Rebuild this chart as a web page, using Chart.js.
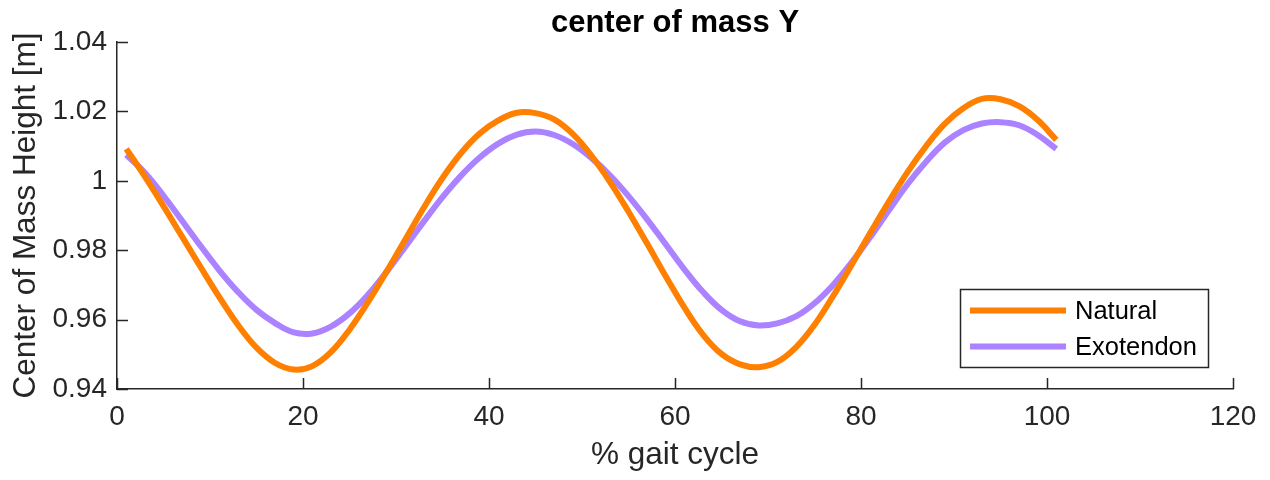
<!DOCTYPE html>
<html>
<head>
<meta charset="utf-8">
<script src="https://cdn.jsdelivr.net/npm/chart.js@4.4.1/dist/chart.umd.min.js"></script>
<style>
  html, body { margin: 0; padding: 0; background: #ffffff; }
  #wrap { width: 1270px; height: 480px; }
</style>
</head>
<body>
<div id="wrap"><canvas id="comChart" width="1270" height="480"></canvas></div>
<script>
const gaitPercent = [1, 3, 5, 7, 9, 11, 13, 15, 17, 19, 21, 23, 25, 27, 29, 31, 33, 35, 37, 39, 41, 43, 45, 47, 49,
    51, 53, 55, 57, 59, 61, 63, 65, 67, 69, 71, 73, 75, 77, 79, 81, 83, 85, 87, 89, 91, 93, 95, 97, 99, 101];

const naturalHeight = [1.0092, 1.0012, 0.9927, 0.9839, 0.9751, 0.9665, 0.9585, 0.9519, 0.9475, 0.9456,
    0.9466, 0.9506, 0.9571, 0.9651, 0.9739, 0.9831, 0.9923, 1.0008, 1.0080, 1.0136,
    1.0174, 1.0196, 1.0195, 1.0177, 1.0135, 1.0073, 0.9997, 0.9911, 0.9819, 0.9725,
    0.9635, 0.9557, 0.9501, 0.9471, 0.9463, 0.9478, 0.9520, 0.9585, 0.9668, 0.9758,
    0.9850, 0.9940, 1.0025, 1.0100, 1.0164, 1.0209, 1.0236, 1.0235, 1.0215, 1.0175, 1.0118];

const exotendonHeight = [1.0075, 1.0023, 0.9957, 0.9885, 0.9812, 0.9742, 0.9680, 0.9628, 0.9590, 0.9563,
    0.9560, 0.9580, 0.9618, 0.9672, 0.9738, 0.9810, 0.9883, 0.9953, 1.0015, 1.0067,
    1.0107, 1.0133, 1.0142, 1.0132, 1.0106, 1.0066, 1.0016, 0.9956, 0.9889, 0.9817,
    0.9745, 0.9680, 0.9628, 0.9595, 0.9583, 0.9589, 0.9609, 0.9647, 0.9700, 0.9765,
    0.9838, 0.9915, 0.9990, 1.0055, 1.0110, 1.0146, 1.0165, 1.0169, 1.0160, 1.0132, 1.0092];

const xTickValues = [0, 20, 40, 60, 80, 100, 120];
const yTickValues = [0.94, 0.96, 0.98, 1, 1.02, 1.04];

const FONT = "'Liberation Sans', Arial, Helvetica, sans-serif";
const AXIS_COLOR = "#262626";

function toPoints(ys) {
    return gaitPercent.map((x, i) => ({ x: x, y: ys[i] }));
}

// matlab style ticks pointing into the plot
const inwardTicks = {
    id: "inwardTicks",
    afterDatasetsDraw(chart) {
        const { ctx, chartArea, scales } = chart;
        const len = 11;
        ctx.save();
        ctx.strokeStyle = AXIS_COLOR;
        ctx.lineWidth = 1.5;
        ctx.beginPath();
        scales.x.ticks.forEach(t => {
            const px = Math.round(scales.x.getPixelForValue(t.value)) + 0.5;
            ctx.moveTo(px, chartArea.bottom);
            ctx.lineTo(px, chartArea.bottom - len);
        });
        scales.y.ticks.forEach(t => {
            const py = Math.round(scales.y.getPixelForValue(t.value)) + 0.5;
            ctx.moveTo(chartArea.left, py);
            ctx.lineTo(chartArea.left + len, py);
        });
        ctx.stroke();
        ctx.restore();
    }
};

// title centred over the axes, not the whole canvas
const axesTitle = {
    id: "axesTitle",
    afterDraw(chart) {
        const { ctx, chartArea } = chart;
        ctx.save();
        ctx.font = "bold 31px " + FONT;
        ctx.fillStyle = "#000000";
        ctx.textAlign = "center";
        ctx.textBaseline = "alphabetic";
        ctx.fillText(chart.options.plugins.axesTitle.text, (chartArea.left + chartArea.right) / 2, 32);
        ctx.restore();
    }
};

// legend box inside the axes, lower right
const boxLegend = {
    id: "boxLegend",
    afterDraw(chart) {
        const { ctx, chartArea } = chart;
        const w = 248, h = 78;
        const left = chartArea.right - 273;
        const top = chartArea.bottom - 100;
        ctx.save();
        ctx.fillStyle = "#ffffff";
        ctx.fillRect(left, top, w, h);
        ctx.strokeStyle = AXIS_COLOR;
        ctx.lineWidth = 1.5;
        ctx.strokeRect(left + 0.5, top + 0.5, w, h);
        ctx.font = "25.5px " + FONT;
        ctx.textBaseline = "middle";
        ctx.textAlign = "left";
        chart.data.datasets.forEach((ds, i) => {
            const y = top + 21.5 + i * 36;
            ctx.strokeStyle = ds.borderColor;
            ctx.lineWidth = 6;
            ctx.beginPath();
            ctx.moveTo(left + 10, y);
            ctx.lineTo(left + 106, y);
            ctx.stroke();
            ctx.fillStyle = "#000000";
            ctx.fillText(ds.label, left + 115, y + 1);
        });
        ctx.restore();
    }
};

new Chart(document.getElementById("comChart"), {
    type: "line",
    data: {
        datasets: [{
            label: "Natural",
            data: toPoints(naturalHeight),
            borderColor: "#ff8000",
            borderWidth: 6,
            pointRadius: 0,
            tension: 0.4,
            fill: false
        }, {
            label: "Exotendon",
            data: toPoints(exotendonHeight),
            borderColor: "#ab82ff",
            borderWidth: 6,
            pointRadius: 0,
            tension: 0.4,
            fill: false
        }]
    },
    options: {
        responsive: false,
        animation: false,
        layout: { padding: { left: 0, right: 37, top: 42, bottom: 0 } },
        scales: {
            x: {
                type: "linear",
                min: 0,
                max: 120,
                afterBuildTicks: s => { s.ticks = xTickValues.map(v => ({ value: v })); },
                afterFit: s => { s.height = 91; },
                grid: { display: false, drawTicks: false },
                border: { color: AXIS_COLOR, width: 1.5 },
                ticks: {
                    padding: 11,
                    color: AXIS_COLOR,
                    font: { family: FONT, size: 28 },
                    maxRotation: 0,
                    callback: v => String(v)
                },
                title: {
                    display: true,
                    text: "% gait cycle",
                    color: AXIS_COLOR,
                    font: { family: FONT, size: 31.5 },
                    padding: { top: 0, bottom: 6 }
                }
            },
            y: {
                min: 0.94,
                max: 1.04,
                afterBuildTicks: s => { s.ticks = yTickValues.map(v => ({ value: v })); },
                afterFit: s => { s.width = 117; },
                grid: { display: false, drawTicks: false },
                border: { color: AXIS_COLOR, width: 1.5 },
                ticks: {
                    padding: 10,
                    color: AXIS_COLOR,
                    font: { family: FONT, size: 28 },
                    callback: v => String(Number(v.toFixed(2)))
                },
                title: {
                    display: true,
                    text: "Center of Mass Height [m]",
                    color: AXIS_COLOR,
                    font: { family: FONT, size: 31.5 },
                    padding: { top: 7.6, bottom: 0 }
                }
            }
        },
        plugins: {
            legend: { display: false },
            tooltip: { enabled: false },
            title: { display: false },
            axesTitle: { text: "center of mass Y" }
        }
    },
    plugins: [inwardTicks, axesTitle, boxLegend]
});
</script>
</body>
</html>
